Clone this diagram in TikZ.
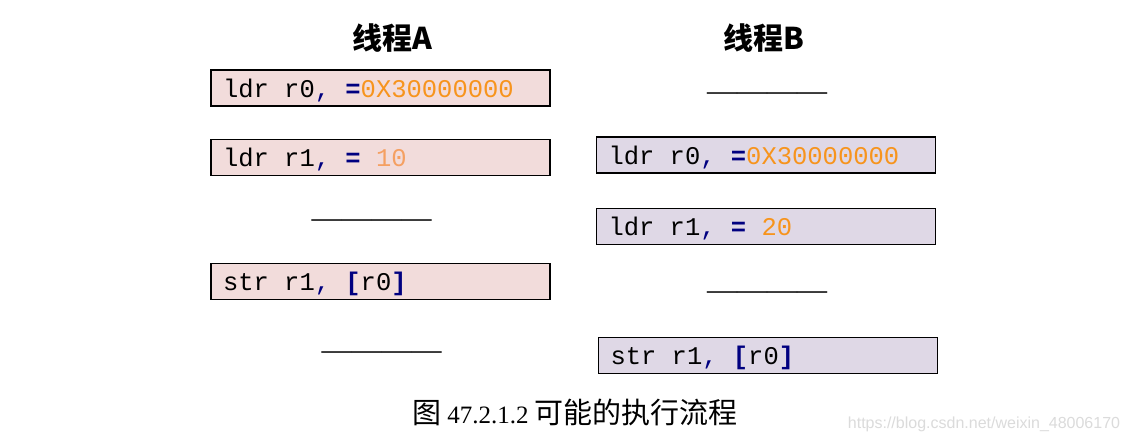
\documentclass[tikz,border=0pt]{standalone}
\usepackage{fontspec}
\setmainfont{Liberation Serif}
\setmonofont{Liberation Mono}
\setsansfont{Liberation Sans}
\newfontfamily\cjk{Noto Sans CJK SC}
\definecolor{pinkfill}{HTML}{F2DCDB}
\definecolor{lavfill}{HTML}{DFD8E6}
\definecolor{navyc}{HTML}{000080}
\definecolor{orangec}{HTML}{F7941D}
\definecolor{orangel}{HTML}{F5A062}
\newcommand{\cm}{{\color{navyc},}}
\newcommand{\eqs}{{\color{navyc}\bfseries =}}
\newcommand{\lb}{{\color{navyc}\bfseries [}}
\newcommand{\rb}{{\color{navyc}\bfseries ]}}
\newcommand{\codeline}[1]{\makebox[315pt][l]{\ttfamily\fontsize{25.5}{30}\selectfont #1}}
\begin{document}
\begin{tikzpicture}[x=1pt,y=-1pt,
  codebox/.style={draw=black, line width=1.6pt, rectangle, minimum width=339pt,
    minimum height=36pt, inner xsep=12pt, inner ysep=0pt, text height=20pt, text depth=2pt},
  boxa/.style={codebox, fill=pinkfill},
  boxb/.style={codebox, fill=lavfill},
  title/.style={font=\cjk\bfseries\fontsize{30}{34}\selectfont, inner sep=0pt},
  gap/.style={font=\fontsize{30}{34}\selectfont, inner sep=0pt, anchor=base}
]
\useasboundingbox (0,0) rectangle (1128,442);
\fill[white] (0,0) rectangle (1128,442);

\node[title] (ta) at (392,38) {线程A};
\node[title] (tb) at (764,38) {线程B};

\node[boxa] (a1) at (380.5,88) {\codeline{ldr r0\cm{} \eqs{\color{orangec}0X30000000}}};
\node[boxa] (a2) at (380.5,157.5) {\codeline{ldr r1\cm{} \eqs{} {\color{orangel}10}}};
\node[gap] (ga1) at (371.5,227.5) {————};
\node[boxa] (a3) at (380.5,281.5) {\codeline{str r1\cm{} \lb r0\rb}};
\node[gap] (ga2) at (381.5,359.5) {————};

\node[gap] (gb1) at (767,100.5) {————};
\node[boxb] (b1) at (766,155) {\codeline{ldr r0\cm{} \eqs{\color{orangec}0X30000000}}};
\node[boxb] (b2) at (766,226.5) {\codeline{ldr r1\cm{} \eqs{} {\color{orangec}20}}};
\node[gap] (gb2) at (767,299.5) {————};
\node[boxb] (b3) at (768,355.5) {\codeline{str r1\cm{} \lb r0\rb}};

\node[inner sep=0pt] (cap) at (575,412) {{\cjk\fontsize{29}{34}\selectfont 图}\hspace{6pt}{\fontsize{25}{30}\selectfont 47.2.1.2}\hspace{6pt}{\cjk\fontsize{29}{34}\selectfont 可能的执行流程}};
\node[inner sep=0pt, text=black!14, font=\sffamily\fontsize{16}{18}\selectfont] (wm) at (984,424) {https://blog.csdn.net/weixin\_48006170};
\end{tikzpicture}
\end{document}
